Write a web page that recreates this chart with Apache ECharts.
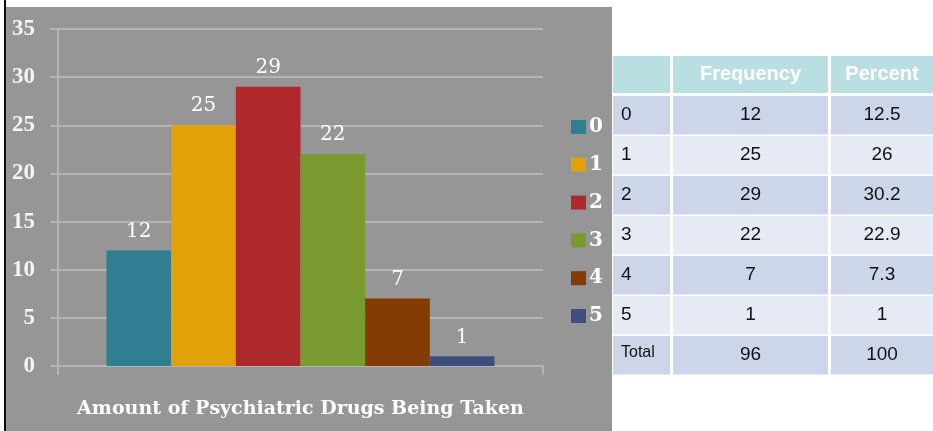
<!DOCTYPE html>
<html>
<head>
<meta charset="utf-8">
<script src="https://cdn.jsdelivr.net/npm/echarts@6/dist/echarts.min.js"></script>
<style>
  html, body { margin: 0; padding: 0; background: #ffffff; }
  #chart { width: 933px; height: 431px; }
</style>
</head>
<body>
<div id="chart"></div>
<script>
// Number of psychiatric drugs being taken: frequency per group
const categories = ['Amount of Psychiatric Drugs Being Taken'];
const groups = ['0', '1', '2', '3', '4', '5'];
const frequency = [12, 25, 29, 22, 7, 1];
const percent = ['12.5', '26', '30.2', '22.9', '7.3', '1'];
const totalLabel = 'Total';
const totalFrequency = '96';
const totalPercent = '100';
const tableHeaders = ['', 'Frequency', 'Percent'];
const yMax = 35;
const yStep = 5;

const colors = ['#2f7e91', '#e2a109', '#ad292c', '#789a2f', '#843b04', '#3e4f7f'];
const serif = '"DejaVu Serif", "Liberation Serif", serif';
const sans = '"Liberation Sans", Arial, sans-serif';

// Frequency table drawn beside the bar chart
const colX = [613, 673, 831];
const colW = [57, 155, 102];
const headerTop = 56, headerH = 37;
const rowTop = 96, rowH = 38.5, rowStep = 40;

const tableGraphics = [];
tableHeaders.forEach((h, c) => {
  tableGraphics.push({
    type: 'rect', shape: { x: colX[c], y: headerTop, width: colW[c], height: headerH },
    style: { fill: '#b9dfe2' }
  });
  if (h) {
    tableGraphics.push({
      type: 'text', x: colX[c] + colW[c] / 2, y: headerTop + headerH / 2,
      style: { text: h, fill: '#ffffff', font: 'bold 20px ' + sans, align: 'center', verticalAlign: 'middle' }
    });
  }
});
const rows = groups.map((g, i) => [g, String(frequency[i]), percent[i]]);
rows.push([totalLabel, totalFrequency, totalPercent]);
rows.forEach((r, i) => {
  const y = rowTop + i * rowStep;
  const fill = i % 2 === 0 ? '#cdd5e9' : '#e6eaf5';
  r.forEach((cell, c) => {
    tableGraphics.push({
      type: 'rect', shape: { x: colX[c], y: y, width: colW[c], height: rowH },
      style: { fill: fill }
    });
    const isTotal = i === rows.length - 1 && c === 0;
    tableGraphics.push({
      type: 'text',
      x: c === 0 ? colX[c] + 8 : colX[c] + colW[c] / 2,
      y: y + rowH / 2 + (isTotal ? -3 : 0),
      style: {
        text: cell, fill: '#111111',
        font: (isTotal ? '16px ' : '19px ') + sans,
        align: c === 0 ? 'left' : 'center', verticalAlign: 'middle'
      }
    });
  });
});

const chart = echarts.init(document.getElementById('chart'));
chart.setOption({
  animation: false,
  graphic: [
    { type: 'rect', z: -100, shape: { x: 6, y: 7, width: 606, height: 424 }, style: { fill: '#969696' } },
    { type: 'rect', z: -100, shape: { x: 4, y: 0, width: 2, height: 431 }, style: { fill: '#111111' } }
  ].concat(tableGraphics),
  grid: { left: 58, right: 390, top: 29, bottom: 65 },
  legend: {
    orient: 'vertical', left: 566, top: 112,
    itemWidth: 15, itemHeight: 14, itemGap: 17.8,
    icon: 'rect',
    textStyle: { color: '#ffffff', fontFamily: serif, fontWeight: 'bold', fontSize: 20, padding: [0, 0, 0, -2] },
    data: groups
  },
  xAxis: {
    type: 'category',
    data: categories,
    axisLine: { lineStyle: { color: '#b4b4b4', width: 2 } },
    axisTick: { show: true, length: 9, lineStyle: { color: '#b4b4b4', width: 2 } },
    axisLabel: { color: '#ffffff', fontFamily: serif, fontWeight: 'bold', fontSize: 19, margin: 34 }
  },
  yAxis: {
    type: 'value', min: 0, max: yMax, interval: yStep,
    axisLine: { show: true, lineStyle: { color: '#b4b4b4', width: 2 } },
    axisTick: { show: true, length: 8, lineStyle: { color: '#b4b4b4', width: 2 } },
    splitLine: { lineStyle: { color: '#b4b4b4', width: 2 } },
    axisLabel: { color: '#f4f4f4', fontFamily: '"Liberation Serif", serif', fontWeight: 'bold', fontSize: 23, margin: 23 }
  },
  series: groups.map((g, i) => ({
    name: g,
    type: 'bar',
    data: [frequency[i]],
    barGap: '0%',
    barCategoryGap: '20%',
    itemStyle: { color: colors[i] },
    label: {
      show: true, position: 'top', distance: 9,
      color: '#ffffff', fontFamily: serif, fontSize: 20
    }
  }))
});
</script>
</body>
</html>
